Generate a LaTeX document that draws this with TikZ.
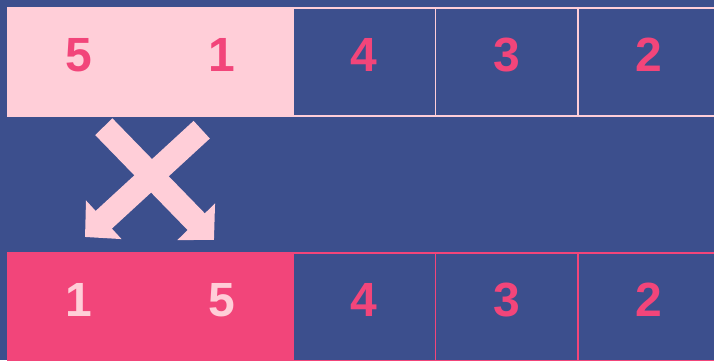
\documentclass[tikz,border=0pt]{standalone}
\usepackage{fontspec}
\setmainfont{Liberation Sans}
\usepackage{tikz}
\usetikzlibrary{arrows.meta,positioning}

\definecolor{bgblue}{HTML}{3C4F8D}
\definecolor{lightpink}{HTML}{FFCED8}
\definecolor{hotpink}{HTML}{F2457A}

\begin{document}
\begin{tikzpicture}[
  x=1pt, y=1pt,
  every node/.style={font=\fontsize{48}{48}\selectfont\bfseries},
  cell/.style={rectangle, draw, line width=1.5pt, inner sep=0pt, outer sep=0pt,
    minimum width=142.5pt, minimum height=108pt, text depth=14pt},
  before/.style={cell, draw=lightpink, fill=bgblue, text=hotpink},
  beforeswap/.style={cell, draw=lightpink, fill=lightpink, text=hotpink},
  after/.style={cell, draw=hotpink, fill=bgblue, text=hotpink},
  afterswap/.style={cell, draw=hotpink, fill=hotpink, text=lightpink},
  swap/.style={line width=24pt, color=lightpink,
    -{Triangle[length=25.5pt,width=51pt]}},
]
\useasboundingbox[fill=bgblue] (0,0) rectangle (714,360);

% Row 0: before the swap
\node[beforeswap] at (79.25, 298) (t1) {5};
\node[beforeswap, right=0pt of t1] (t2) {1};
\node[before, right=0pt of t2] (t3) {4};
\node[before, right=0pt of t3] (t4) {3};
\node[before, right=0pt of t4] (t5) {2};

% Row 1: after the swap
\node[afterswap] at (79.25, 53) (b1) {1};
\node[afterswap, right=0pt of b1] (b2) {5};
\node[after, right=0pt of b2] (b3) {4};
\node[after, right=0pt of b3] (b4) {3};
\node[after, right=0pt of b4] (b5) {2};

% swap arrows
\coordinate (s1) at (103.8, 233.3);
\coordinate (e1) at (214, 120);
\coordinate (s2) at (201.7, 230.3);
\coordinate (e2) at (85, 123);
\draw[swap] (s1) -- (e1);
\draw[swap] (s2) -- (e2);

\end{tikzpicture}
\end{document}
